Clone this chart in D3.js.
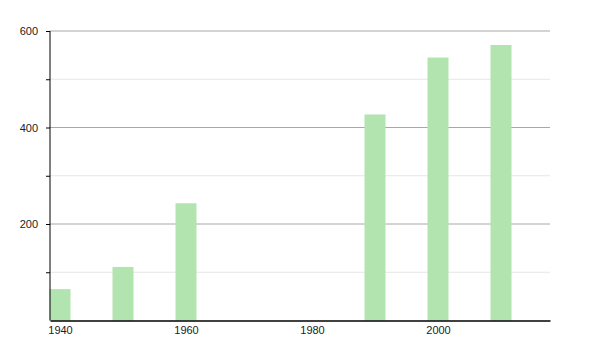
<!DOCTYPE html>
<html>
<head>
<meta charset="utf-8">
<script src="https://cdn.jsdelivr.net/npm/d3@7"></script>
<style>
body { margin: 0; background: #fff; }
text { font-family: "Liberation Sans", Arial, sans-serif; font-size: 11px; fill: #222; }
</style>
</head>
<body>
<svg id="chart" width="600" height="350"></svg>
<script>
// 数据
var years = [1940, 1950, 1960, 1990, 2000, 2010];
var values = [65, 111, 243, 427, 545, 571];
var xTicks = [1940, 1960, 1980, 2000];
var yTicks = [200, 400, 600];
var yMinor = [100, 300, 500];

var svg = d3.select("#chart"),
    padL = 50, padR = 550, padT = 31, padB = 320.5;

// x比例尺：年份 -> 像素
var x = d3.scaleLinear()
    .domain([1940 - 10 / 6.3, 1940 + 490 / 6.3])
    .range([padL, padR]);
var y = d3.scaleLinear()
    .domain([0, 600])
    .range([padB, padT]);
var barW = 21;

// 次网格线
svg.append("g").selectAll("line")
    .data(yMinor)
    .enter().append("line")
    .attr("x1", padL).attr("x2", padR)
    .attr("y1", function(d) { return y(d); })
    .attr("y2", function(d) { return y(d); })
    .attr("stroke", "#e6e6e6");
// 主网格线
svg.append("g").selectAll("line")
    .data(yTicks)
    .enter().append("line")
    .attr("x1", padL).attr("x2", padR)
    .attr("y1", function(d) { return y(d); })
    .attr("y2", function(d) { return y(d); })
    .attr("stroke", "#a8a8a8");

// 柱子
svg.append("g").selectAll("rect")
    .data(years)
    .enter().append("rect")
    .attr("x", function(d) { return x(d) - barW / 2; })
    .attr("width", barW)
    .attr("y", function(d, i) { return y(values[i]); })
    .attr("height", function(d, i) { return y(0) - y(values[i]); })
    .attr("fill", "#b2e4b0");

// y轴
var yAxis = d3.axisLeft(y)
    .tickValues(yTicks.concat(yMinor))
    .tickSize(4)
    .tickFormat(function(d) { return yTicks.indexOf(d) >= 0 ? d : ""; });
var gy = svg.append("g")
    .attr("transform", "translate(" + padL + ",0)")
    .call(yAxis);
gy.select(".domain").attr("stroke", "#000").attr("d", "M0," + padT + "V" + padB);
gy.selectAll(".tick line").attr("stroke", "#000");
gy.selectAll("text").attr("x", -12).style("font-family", "Liberation Sans, Arial, sans-serif").style("font-size", "11px").attr("fill", "#222");

// x轴
var xAxis = d3.axisBottom(x)
    .tickValues(xTicks)
    .tickSize(0)
    .tickFormat(d3.format("d"));
var gx = svg.append("g")
    .attr("transform", "translate(0," + padB + ")")
    .call(xAxis);
gx.select(".domain").attr("stroke", "#000").attr("stroke-width", 1.3);
gx.selectAll("text").attr("y", 6).style("font-family", "Liberation Sans, Arial, sans-serif").style("font-size", "11px").attr("fill", "#222");
</script>
</body>
</html>
